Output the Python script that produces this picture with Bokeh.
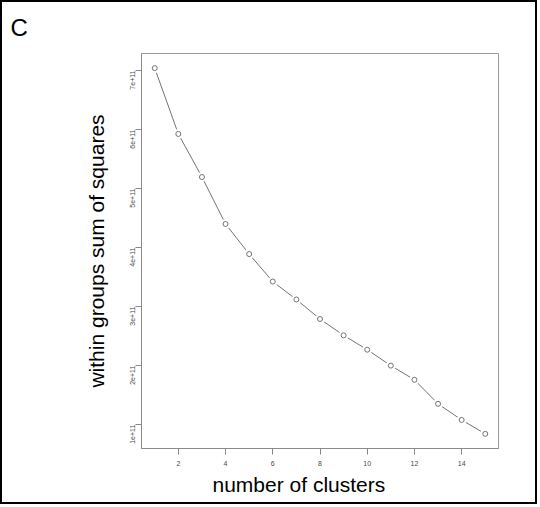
import math
from bokeh.plotting import figure
from bokeh.models import Range1d, FixedTicker, Title
from bokeh.embed import file_html
from bokeh.resources import INLINE

clusters = [1, 2, 3, 4, 5, 6, 7, 8, 9, 10, 11, 12, 13, 14, 15]
wss = [7.04e11, 5.925e11, 5.195e11, 4.40e11, 3.89e11, 3.424e11, 3.12e11, 2.79e11,
       2.513e11, 2.27e11, 2.00e11, 1.76e11, 1.353e11, 1.08e11, 0.844e11]
x_ticks = [2, 4, 6, 8, 10, 12, 14]
y_ticks = [1e11, 2e11, 3e11, 4e11, 5e11, 6e11, 7e11]
y_tick_labels = ["1e+11", "2e+11", "3e+11", "4e+11", "5e+11", "6e+11", "7e+11"]
panel_letter = "C"
x_title = "number of clusters"
y_title = "within groups sum of squares"

FONT = "Liberation Sans"

xpad = (max(clusters) - min(clusters)) * 0.04
ypad = (max(wss) - min(wss)) * 0.04

W, H = 537, 504
p = figure(width=W, height=H, output_backend="svg", toolbar_location=None,
           x_range=Range1d(min(clusters) - xpad, max(clusters) + xpad),
           y_range=Range1d(min(wss) - ypad, max(wss) + ypad),
           min_border_left=139, min_border_right=W - 496,
           min_border_top=51, min_border_bottom=H - 446)
p.styles = {"border": "2px solid black"}
p.xgrid.visible = False
p.ygrid.visible = False
p.outline_line_color = "#9a9a9a"
p.outline_line_width = 1
p.background_fill_color = "white"
p.border_fill_color = "white"

p.xaxis.ticker = FixedTicker(ticks=x_ticks)
p.yaxis.ticker = FixedTicker(ticks=y_ticks)
p.yaxis.major_label_overrides = {t: l for t, l in zip(y_ticks, y_tick_labels)}
p.yaxis.major_label_orientation = math.pi / 2
for ax in (p.xaxis[0], p.yaxis[0]):
    ax.axis_line_color = "#8a8a8a"
    ax.major_tick_line_color = "#888888"
    ax.major_tick_out = 6
    ax.major_tick_in = 0
    ax.minor_tick_line_color = None
    ax.major_label_text_font = FONT
    ax.major_label_text_font_size = "7px"
    ax.major_label_text_color = "#4a4a4a"
p.xaxis.major_label_standoff = 6
p.yaxis.major_label_standoff = 3
p.xaxis.axis_label = None
p.yaxis.axis_label = y_title
p.yaxis.axis_label_text_font = FONT
p.yaxis.axis_label_text_font_size = "21px"
p.yaxis.axis_label_text_font_style = "normal"
p.yaxis.axis_label_text_color = "black"
p.yaxis.axis_label_standoff = 17

p.line(clusters, wss, line_color="#737373", line_width=1)
p.scatter(clusters, wss, size=10, fill_color="white", line_color=None)
p.scatter(clusters, wss, size=5, fill_color=None, line_color="#737373", line_width=1)

p.add_layout(Title(text=x_title, align="left", offset=71, standoff=4,
                   text_font=FONT, text_font_size="21px", text_font_style="normal",
                   text_color="black"), "below")
p.add_layout(Title(text=panel_letter, align="left", offset=-131, standoff=21,
                   vertical_align="top",
                   text_font=FONT, text_font_size="24px", text_font_style="normal",
                   text_color="black"), "above")

open("out.html", "w").write(file_html(p, INLINE))
